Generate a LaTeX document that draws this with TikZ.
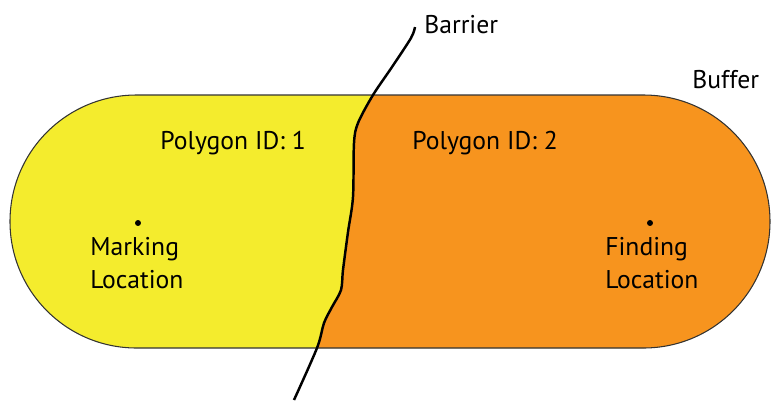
\documentclass[tikz,border=0pt]{standalone}
\usepackage{fontspec}
\setmainfont{PT Sans}
\definecolor{polyone}{HTML}{F4EC2D}
\definecolor{polytwo}{HTML}{F7941E}
\tikzset{every picture/.style={x=0.02cm,y=-0.02cm},
  lbl/.style={font=\fontsize{14.6}{18.7}\selectfont,inner sep=0pt,align=left},
  site/.style={circle,fill=black,inner sep=0pt,minimum size=3.4pt},
  buffer/.style={rounded corners=2.53cm}}

\begin{document}
\begin{tikzpicture}
\useasboundingbox (0,0) rectangle (772,400);
% barrier points
\coordinate (b1) at (415,27);
\coordinate (b2) at (411,38);
\coordinate (b3) at (392,67);
\coordinate (b4) at (373,95);
\coordinate (b5) at (358,123);
\coordinate (b6) at (354,143);
\coordinate (b7) at (353,197);
\coordinate (b8) at (348,232);
\coordinate (b9) at (343,270);
\coordinate (b10) at (341,290);
\coordinate (b11) at (332,307);
\coordinate (b12) at (324,323);
\coordinate (b13) at (317,348);
\coordinate (b14) at (294,400);
\begin{scope}
\clip[buffer] (10,95) rectangle (770,348);
\fill[polyone] (0,0) rectangle (772,400);
\fill[polytwo] plot[smooth] coordinates {(b1) (b2) (b3) (b4) (b5) (b6) (b7) (b8) (b9) (b10) (b11) (b12) (b13) (b14)}
  -- (780,400) -- (780,0) -- cycle;
\end{scope}
\draw[buffer,black!80,line width=0.6pt] (10,95) rectangle (770,348);
\draw[line width=1.4pt] plot[smooth] coordinates {(b1) (b2) (b3) (b4) (b5) (b6) (b7) (b8) (b9) (b10) (b11) (b12) (b13) (b14)};
\node[lbl,anchor=base west] (barrier) at (424,33) {Barrier};
\node[lbl,anchor=base west] (bufferlbl) at (692,88) {Buffer};
\node[lbl,anchor=base west] (idone) at (160,149) {Polygon ID: 1};
\node[lbl,anchor=base west] (idtwo) at (412,149) {Polygon ID: 2};
\node[site] (marking) at (138,223) {};
\node[site] (finding) at (650,223) {};
\node[lbl,anchor=north west] (markinglbl) at (90,237) {Marking\\Location};
\node[lbl,anchor=north west] (findinglbl) at (605,237) {Finding\\Location};
\end{tikzpicture}
\end{document}
